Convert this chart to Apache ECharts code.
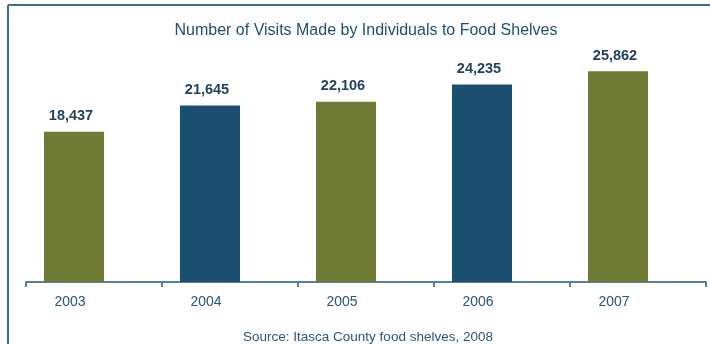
<!DOCTYPE html>
<html>
<head>
<meta charset="utf-8">
<script src="https://cdn.jsdelivr.net/npm/echarts@6/dist/echarts.min.js"></script>
<style>
  html, body { margin: 0; padding: 0; background: #ffffff; }
  #chart { width: 710px; height: 344px; }
</style>
</head>
<body>
<div id="chart"></div>
<script>
// Annual visits to Itasca County food shelves
const years = ['2003', '2004', '2005', '2006', '2007'];
const visits = [18437, 21645, 22106, 24235, 25862];
const barColors = ['#6f7a34', '#1a4f72', '#6f7a34', '#1a4f72', '#6f7a34'];

const chart = echarts.init(document.getElementById('chart'));

const fmt = v => v.toLocaleString('en-US');

chart.setOption({
  backgroundColor: '#ffffff',
  animation: false,
  title: [
    {
      text: 'Number of Visits Made by Individuals to Food Shelves',
      left: 361, top: 18, textAlign: 'center',
      textStyle: { fontFamily: 'Liberation Sans, Arial, sans-serif', fontSize: 16, fontWeight: 'normal', color: '#1f4e6e' }
    },
    {
      text: 'Source: Itasca County food shelves, 2008',
      left: 363, top: 325, textAlign: 'center',
      textStyle: { fontFamily: 'Liberation Sans, Arial, sans-serif', fontSize: 13.5, fontWeight: 'normal', color: '#2a5577' }
    }
  ],
  graphic: [
    // frame along the top and left edges
    { type: 'line', shape: { x1: 8, y1: 5, x2: 710, y2: 5 }, style: { stroke: '#3f6d8c', lineWidth: 2 } },
    { type: 'line', shape: { x1: 8, y1: 5, x2: 8, y2: 344 }, style: { stroke: '#3f6d8c', lineWidth: 2 } }
  ],
  grid: [
    { left: 6, right: 24, top: 37.5, bottom: 62 },
    { left: 26, right: 4, top: 37.5, bottom: 62 }
  ],
  xAxis: [
    {
      type: 'category', gridIndex: 0, data: years,
      axisLine: { show: false }, axisTick: { show: false },
      axisLabel: { margin: 13, padding: [0, 8, 0, 0], fontFamily: 'Liberation Sans, Arial, sans-serif', fontSize: 14, color: '#2a5577' }
    },
    {
      type: 'category', gridIndex: 1, data: ['', '', '', '', ''],
      axisLine: { lineStyle: { color: '#5b7f99', width: 2 } },
      axisTick: { show: true, length: 5, lineStyle: { color: '#5b7f99', width: 2 } },
      axisLabel: { show: false }
    }
  ],
  yAxis: [
    { type: 'value', gridIndex: 0, min: 0, max: 30000, show: false, splitLine: { show: false } },
    { type: 'value', gridIndex: 1, min: 0, max: 30000, show: false, splitLine: { show: false } }
  ],
  series: [
    {
      type: 'bar',
      xAxisIndex: 0, yAxisIndex: 0,
      barWidth: 60,
      data: visits.map((v, i) => ({ value: v, itemStyle: { color: barColors[i] } })),
      label: {
        show: true, position: 'top', distance: 8, offset: [-3, 0],
        formatter: p => fmt(p.value),
        fontFamily: 'Liberation Sans, Arial, sans-serif', fontSize: 14.5, fontWeight: 'bold', color: '#1f3f5c'
      }
    }
  ]
});
</script>
</body>
</html>
